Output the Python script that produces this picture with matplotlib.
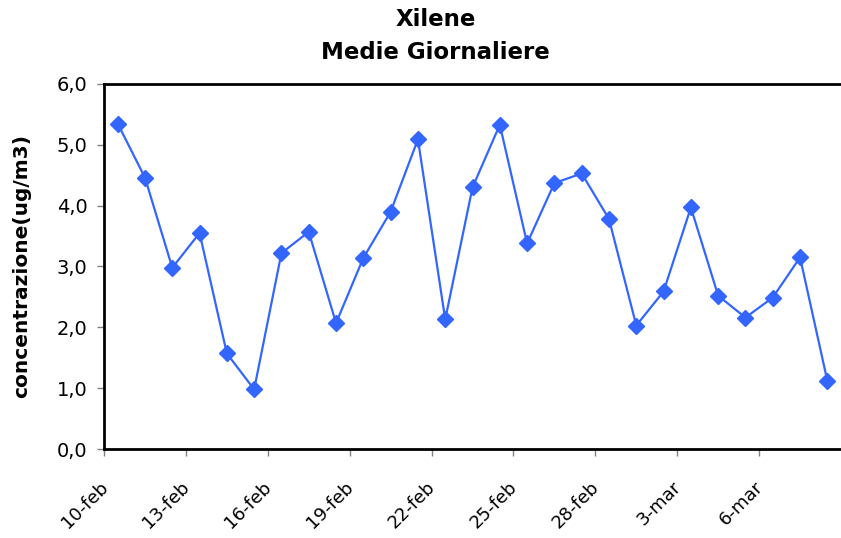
import matplotlib.pyplot as plt
import matplotlib.transforms as mtransforms

# giorni della campagna (10 feb - 8 mar)
giorni = ["10-feb", "11-feb", "12-feb", "13-feb", "14-feb", "15-feb", "16-feb",
          "17-feb", "18-feb", "19-feb", "20-feb", "21-feb", "22-feb", "23-feb",
          "24-feb", "25-feb", "26-feb", "27-feb", "28-feb", "1-mar", "2-mar",
          "3-mar", "4-mar", "5-mar", "6-mar", "7-mar", "8-mar"]
xilene = [5.35, 4.46, 2.98, 3.55, 1.57, 0.98, 3.22, 3.57, 2.07, 3.14, 3.90, 5.09,
          2.13, 4.30, 5.33, 3.38, 4.37, 4.53, 3.78, 2.03, 2.59, 3.97, 2.52, 2.16,
          2.49, 3.15, 1.12]
y_ticks = [0, 1, 2, 3, 4, 5, 6]

plt.rcParams['font.family'] = ['DejaVu Sans']

fig = plt.figure(figsize=(8.41, 5.38), dpi=100)
ax = fig.add_axes([0.1237, 0.1654, 0.8763, 0.6785])

x = list(range(len(xilene)))
ax.plot(x, xilene, color="#3366FF", linewidth=1.6, marker="D", markersize=8.5)

# asse categorie: tacche tra le categorie, ogni 3 giorni
pos = [i - 0.5 for i in range(0, len(giorni), 3)]
ax.set_xticks(pos)
ax.set_xticklabels([])
ax.set_xlim(-0.5, len(giorni) - 0.5)
# etichette ruotate spostate a mano sotto le tacche
trans = ax.get_xaxis_transform() + mtransforms.ScaledTranslation(
    1 / 100, -35 / 100, fig.dpi_scale_trans)
for p, g in zip(pos, giorni[::3]):
    ax.text(p, 0, g, transform=trans, rotation=45, ha="right", va="center",
            rotation_mode="anchor", fontsize=13, clip_on=False)

ax.set_ylim(0, 6)
ax.set_yticks(y_ticks)
ax.set_yticklabels([f"{v:.1f}".replace(".", ",") for v in y_ticks], fontsize=14)
ax.set_ylabel("concentrazione(ug/m3)", fontsize=14.5, fontweight="bold", labelpad=18)

for s in ["left", "bottom", "top"]:
    ax.spines[s].set_linewidth(2)
ax.spines["right"].set_visible(False)
ax.tick_params(direction="out", length=5, width=1, color="#808080")
ax.tick_params(axis="y", pad=7)

fig.suptitle("Xilene\nMedie Giornaliere", fontsize=16.5, fontweight="bold",
             x=0.518, y=0.985, va="top", linespacing=1.55)

plt.savefig("out.png")
plt.close()
